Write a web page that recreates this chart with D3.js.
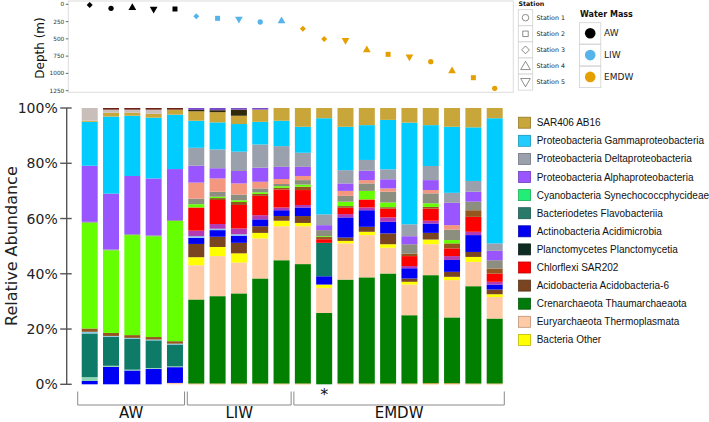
<!DOCTYPE html>
<html><head><meta charset="utf-8">
<script src="https://cdn.jsdelivr.net/npm/d3@7/dist/d3.min.js"></script>
<style>body{margin:0;background:#fff}svg{display:block}</style>
</head><body>
<svg id="chart" width="709" height="422"></svg>
<script>
// ---------- data ----------
const samples = ["1","2","3","4","5","6","7","8","9","10","11","12","13","14","15","16","17","18","19","20"];
const waterMass = ["AW","AW","AW","AW","AW","LIW","LIW","LIW","LIW","LIW",
  "EMDW","EMDW","EMDW","EMDW","EMDW","EMDW","EMDW","EMDW","EMDW","EMDW"];
const station = [3,1,4,5,2, 3,2,5,1,4, 3,3,5,4,2,5,1,4,2,1];
const depth = [10,58,50,68,68, 174,203,213,256,242, 353,502,521,661,724,758,830,965,1062,1216];
const depthTicks = [0,250,500,750,1000,1250];
const pctTicks = [0,20,40,60,80,100];
const markedSample = "12";

// relative abundance (%), stacked bottom -> top
const otherOrange   = [0,0,0,0,0, .3,.3,.3,.3,.3, .3,0,.3,.3,.3,.3,.4,.4,.3,.3];
const thaumarch     = [0,0,0,0,0, 30.4,31.6,32.6,38.0,44.6, 43.2,25.8,37.6,38.4,39.8,24.7,39.1,23.8,35.2,23.5];
const thermoplasm   = [0,0,0,0,0.5, 12.4,14.5,11.2,14.5,12.3, 13.7,9.1,13.1,15.3,9.3,11.1,11.2,13.5,8.8,7.8];
const bactOther     = [0,0,0,0,0, 2.9,3.3,3.3,2.0,2.0, 1.2,1.2,0.9,1.2,1.3,1.0,1.7,1.2,1.8,1.0];
const acidobact6    = [0,0,0,0,0, 4.8,3.7,3.8,2.4,1.7, 2.5,0,1.2,1.8,3.9,1.2,2.4,1.8,1.8,1.7];
const acidimicrobia = [1.2,6.3,5.0,5.6,5.7, 2.2,2.4,2.6,2.5,2.1, 3.1,3.0,7.3,6.0,4.2,3.7,3.4,4.3,6.1,1.8];
const otherPaleTeal = [1.4,0.4,0.3,0.3,0.3, 0,0,0,0,0, 0,0,0,0,0,0,0,0,0,0];
const flavobact     = [15.8,10.5,11.2,10.0,7.9, 0,0,0,0,0, 0,12.1,0,0,0,0,0,0,0,0];
const otherLtBlue   = [0.6,0.3,0.3,0.3,0.3, 0.6,0.5,0.5,0,0, 0,0,0,0,0,0,0,0,0,0];
const otherMagenta  = [0,0,0,0,0, 2.0,1.7,2.1,1.5,1.0, 0.9,0,1.2,1.0,1.6,0.8,1.0,1.4,1.2,1.0];
const sar202        = [0,0,0,0,0, 8.4,8.7,8.5,7.0,6.5, 5.4,1.3,2.3,2.9,3.2,3.6,4.4,2.8,5.4,3.0];
const otherBrown    = [1.2,1.1,1.0,0.9,0.9, 0,0.7,1.1,0.7,0.6, 1.2,0.8,0.6,0,0.5,0.9,0.6,1.8,2.4,1.8];
const cyanobact     = [38.3,29.9,36.2,36.5,43.5, 1.2,0.5,0.6,0.6,0.6, 0.8,0.3,1.6,3.1,1.7,0,1.3,1.2,0,0];
const otherGrey     = [0.3,0.3,0.3,0.3,0.3, 2.0,1.8,2.1,1.4,0.8, 1.6,2.2,2.1,2.7,3.9,3.4,3.6,3.8,3.1,3.0];
const otherSalmon   = [0,0,0,0,0, 5.8,4.8,4.0,2.4,1.8, 1.5,0,1.8,1.2,1.2,0,1.2,1.6,0,0];
const alphaproteo   = [20.3,20.2,21.1,20.6,18.5, 6.1,3.7,4.5,5.1,4.4, 3.3,1.8,2.7,3.4,3.3,2.9,3.6,8.1,3.6,3.4];
const deltaproteo   = [0,0,0,0,0, 6.5,6.8,7.0,8.4,7.5, 5.1,3.9,4.8,3.9,3.6,4.3,5.1,3.6,3.9,2.7];
const gammaproteo   = [15.9,27.9,21.8,22.0,19.7, 9.8,9.8,10.0,8.2,9.2, 9.4,34.8,15.7,12.6,17.9,36.8,14.8,23.9,19.4,45.3];
const sar406        = [0.4,1.4,1.1,1.4,1.8, 3.4,3.7,3.0,4.4,4.6, 6.8,3.7,6.8,6.2,4.3,5.3,6.2,6.8,7.0,3.7];
const otherBeige    = [4.6,1.1,1.1,1.5,0, 0,0,0,0,0, 0,0,0,0,0,0,0,0,0,0];
const planctomyc    = [0,0,0,0,0, 0.5,0.7,2.2,0,0, 0,0,0,0,0,0,0,0,0,0];
const otherPurple   = [0,0,0,0,0, 0.7,0.8,0.6,0.6,0, 0,0,0,0,0,0,0,0,0,0];
const otherDarkRed  = [0,0.6,0.6,0.6,0.6, 0,0,0,0,0, 0,0,0,0,0,0,0,0,0,0];

const series = [
  {key:"otherOrange", values:otherOrange, color:"#F0A040"},
  {key:"thaum", values:thaumarch, color:"#007F00"},
  {key:"thermo", values:thermoplasm, color:"#FFCBA6"},
  {key:"bactOther", values:bactOther, color:"#FFFF00"},
  {key:"acido", values:acidobact6, color:"#7A4420"},
  {key:"acidimicro", values:acidimicrobia, color:"#0000F5"},
  {key:"otherPaleTeal", values:otherPaleTeal, color:"#8CD3B4"},
  {key:"flavo", values:flavobact, color:"#0E7B68"},
  {key:"otherLtBlue", values:otherLtBlue, color:"#88C8E8"},
  {key:"otherMagenta", values:otherMagenta, color:"#B23AB5"},
  {key:"sar202", values:sar202, color:"#FF0000"},
  {key:"otherBrown", values:otherBrown, color:"#94561E"},
  {key:"cyano", values:cyanobact, color:"#66FF00"},
  {key:"otherGrey", values:otherGrey, color:"#8C8F80"},
  {key:"otherSalmon", values:otherSalmon, color:"#F4977F"},
  {key:"alpha", values:alphaproteo, color:"#9955FF"},
  {key:"delta", values:deltaproteo, color:"#9AA0AC"},
  {key:"gamma", values:gammaproteo, color:"#00CCFF"},
  {key:"sar406", values:sar406, color:"#C9A63A"},
  {key:"otherBeige", values:otherBeige, color:"#C9BEB9"},
  {key:"plancto", values:planctomyc, color:"#2E2A0A"},
  {key:"otherPurple", values:otherPurple, color:"#7A4CC8"},
  {key:"otherDarkRed", values:otherDarkRed, color:"#6E1E12"}
];

const legendLabels = ["SAR406 AB16","Proteobacteria Gammaproteobacteria","Proteobacteria Deltaproteobacteria",
  "Proteobacteria Alphaproteobacteria","Cyanobacteria Synechococcphycideae","Bacteriodetes Flavobacteriia",
  "Actinobacteria Acidimicrobia","Planctomycetes Planctomycetia","Chlorflexi SAR202","Acidobacteria Acidobacteria-6",
  "Crenarchaeota Thaumarchaeaota","Euryarchaeota Thermoplasmata","Bacteria Other"];
const legendColors = ["#C9A63A","#22CCFF","#9AA0AC","#9955FF","#22EE77","#2A7A6A","#0000F0",
  "#0D2B22","#FF0000","#7A4420","#007A0A","#FFCBA6","#FFFF00"];

const massNames = ["AW","LIW","EMDW"];
const massColors = ["#000000","#56B4E9","#E69F00"];
const stationNames = ["Station 1","Station 2","Station 3","Station 4","Station 5"];

// ---------- drawing ----------
const svg = d3.select("#chart");
const FONT = "DejaVu Sans, sans-serif";

const x = d3.scaleBand().domain(samples).range([79.05, 505.35]).paddingInner(0.25).paddingOuter(0.125);
const y = d3.scaleLinear().domain([0,100]).range([384.3,108]);

// stacked bars
const table = samples.map((s,i)=>{ const o={sample:s}; series.forEach(se=>o[se.key]=se.values[i]); return o; });
const stack = d3.stack().keys(series.map(s=>s.key)).order(d3.stackOrderNone).offset(d3.stackOffsetNone);
const layers = stack(table);
const colorOf = Object.fromEntries(series.map(s=>[s.key,s.color]));

svg.append("g").selectAll("g").data(layers).join("g")
  .attr("fill", d=>colorOf[d.key])
  .selectAll("rect").data(d=>d).join("rect")
  .attr("x", d=>x(d.data.sample))
  .attr("width", x.bandwidth())
  .attr("y", d=>y(d[1]))
  .attr("height", d=>Math.max(0, y(d[0])-y(d[1])));

// y axis (bars)
const yAxisX = 66.7;
const gy = svg.append("g").attr("transform",`translate(${yAxisX},0)`);
gy.append("line").attr("y1",y(0)).attr("y2",y(100)).attr("stroke","#555").attr("stroke-width",1.4);
gy.selectAll("line.t").data(pctTicks).join("line").attr("class","t")
  .attr("x1",-6.5).attr("x2",5).attr("y1",d=>y(d)).attr("y2",d=>y(d)).attr("stroke","#555").attr("stroke-width",1.4);
gy.selectAll("text").data(pctTicks).join("text")
  .attr("x",-9).attr("y",d=>y(d)).attr("dy","0.36em").attr("text-anchor","end")
  .attr("font-family",FONT).attr("font-size",14).attr("fill","#222").text(d=>d+"%");
svg.append("text").attr("transform",`translate(17,${(y(0)+y(100))/2}) rotate(-90)`)
  .attr("text-anchor","middle").attr("font-family",FONT).attr("font-size",16).attr("fill","#222")
  .text("Relative Abundance");

// brackets + water mass labels
const groups = massNames.map(m=>{
  const idx = samples.filter((s,i)=>waterMass[i]===m);
  return {name:m, first:idx[0], last:idx[idx.length-1]};
});
const bg = svg.append("g");
groups.forEach((g,gi)=>{
  const x0 = x(g.first) - (gi===0?4:1), x1 = x(g.last)+x.bandwidth()+1.6;
  bg.append("path").attr("d",`M${x0},391.5V405H${x1}V391.5`).attr("fill","none").attr("stroke","#8a8a8a").attr("stroke-width",1);
  bg.append("text").attr("x",(x0+x1)/2).attr("y",418).attr("text-anchor","middle")
    .attr("font-family",FONT).attr("font-size",15).attr("fill","#111").text(g.name);
});
svg.append("text").attr("x",x(markedSample)+x.bandwidth()/2).attr("y",400).attr("text-anchor","middle")
  .attr("font-family",FONT).attr("font-size",16).attr("fill","#111").text("*");

// ---------- depth panel ----------
const yd = d3.scaleLinear().domain([0,1250]).range([4.3,90.7]);
svg.append("rect").attr("x",68.3).attr("y",1).attr("width",445).attr("height",91.3)
  .attr("fill","none").attr("stroke","#dcdcdc").attr("stroke-width",1);
const gd = svg.append("g").attr("transform","translate(68.3,0)");
gd.selectAll("line").data(depthTicks).join("line").attr("x1",-2.5).attr("x2",0)
  .attr("y1",d=>yd(d)).attr("y2",d=>yd(d)).attr("stroke","#444").attr("stroke-width",0.8);
gd.selectAll("text").data(depthTicks).join("text").attr("x",-4).attr("y",d=>yd(d)).attr("dy","0.35em")
  .attr("text-anchor","end").attr("font-family",FONT).attr("font-size",5.8).attr("fill","#333").text(d=>d);
svg.append("text").attr("transform",`translate(44,48) rotate(-90)`).attr("text-anchor","middle")
  .attr("font-family",FONT).attr("font-size",12).attr("fill","#111").text("Depth (m)");

function symbolFor(st, filled){
  // 1 circle, 2 square, 3 diamond, 4 triangle up, 5 triangle down
  if(st===1) return {type:d3.symbolCircle, size: filled?22:34, rot:0};
  if(st===2) return {type:d3.symbolSquare, size: filled?25:30, rot:0};
  if(st===3) return {type:d3.symbolSquare, size: filled?18:30, rot:45};
  if(st===4) return {type:d3.symbolTriangle, size: filled?26:40, rot:0};
  return {type:d3.symbolTriangle, size: filled?26:40, rot:180};
}
const massColor = m=>massColors[massNames.indexOf(m)];
svg.append("g").selectAll("path").data(samples).join("path")
  .attr("transform",(s,i)=>{const sy=symbolFor(station[i],true);return `translate(${x(s)+x.bandwidth()/2},${yd(depth[i])}) rotate(${sy.rot})`;})
  .attr("d",(s,i)=>{const sy=symbolFor(station[i],true);return d3.symbol(sy.type,sy.size)();})
  .attr("fill",(s,i)=>massColor(waterMass[i]));

// station legend
const sl = svg.append("g");
sl.append("text").attr("x",518.5).attr("y",6).attr("font-family",FONT).attr("font-size",6.3).attr("font-weight","bold").attr("fill","#111").text("Station");
stationNames.forEach((n,i)=>{
  const cy = 17.7 + i*16.1;
  sl.append("rect").attr("x",518.3).attr("y",cy-8).attr("width",14.4).attr("height",16).attr("fill","#fff").attr("stroke","#d2d2d2").attr("stroke-width",0.8);
  const sy = symbolFor(i+1,false);
  sl.append("path").attr("transform",`translate(525.5,${cy + (i===3?0.8:(i===4?-0.8:0))}) rotate(${sy.rot})`).attr("d",d3.symbol(sy.type,sy.size)())
    .attr("fill","none").attr("stroke","#444").attr("stroke-width",0.6);
  sl.append("text").attr("x",536.5).attr("y",cy).attr("dy","0.35em").attr("font-family",FONT).attr("font-size",6.3).attr("fill","#222").text(n);
});

// water mass legend
const wl = svg.append("g");
wl.append("text").attr("x",580).attr("y",16.5).attr("font-family",FONT).attr("font-size",8).attr("font-weight","bold").attr("fill","#111").text("Water Mass");
massNames.forEach((m,i)=>{
  const top = 22.7 + i*21.8;
  wl.append("rect").attr("x",579.5).attr("y",top).attr("width",21.3).attr("height",21.3).attr("fill","#fff").attr("stroke","#d2d2d2").attr("stroke-width",0.8);
  wl.append("circle").attr("cx",590.2).attr("cy",top+10.6).attr("r",5.3).attr("fill",massColors[i]);
  wl.append("text").attr("x",604).attr("y",top+10.6).attr("dy","0.35em").attr("font-family",FONT).attr("font-size",9).attr("fill","#222").text(m);
});

// taxa legend
const tl = svg.append("g");
legendLabels.forEach((l,i)=>{
  const cy = 122.7 + i*18.1;
  tl.append("rect").attr("x",518.6).attr("y",cy-5.5).attr("width",12).attr("height",11)
    .attr("fill",legendColors[i]).attr("stroke",d3.color(legendColors[i]).darker(0.9)).attr("stroke-width",0.8);
  tl.append("text").attr("x",536.7).attr("y",cy).attr("dy","0.35em").attr("font-family","Liberation Sans, Arial, sans-serif")
    .attr("font-size",10).attr("fill","#111").text(l);
});
</script>
</body></html>
